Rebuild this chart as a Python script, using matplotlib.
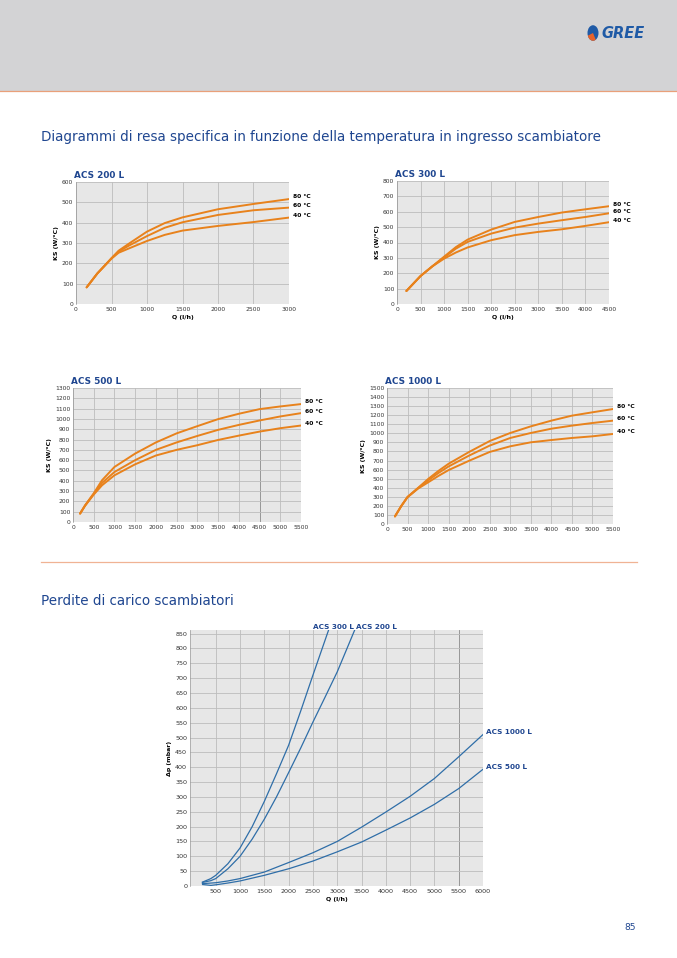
import matplotlib
matplotlib.use("Agg")
import matplotlib.pyplot as plt
from matplotlib.patches import Rectangle, Circle, Wedge

W, H = 677, 958

# ---- dati: resa specifica KS (W/°C) vs Q (l/h) ----
temps = ["80 °C", "60 °C", "40 °C"]

q_200 = [150, 300, 500, 600, 750, 1000, 1250, 1500, 2000, 2500, 3000]
ks_200 = {
    "80 °C": [82, 150, 225, 262, 298, 356, 398, 426, 466, 492, 516],
    "60 °C": [82, 150, 225, 258, 288, 334, 375, 402, 438, 461, 474],
    "40 °C": [82, 150, 223, 252, 274, 310, 340, 361, 384, 403, 425],
}

q_300 = [200, 500, 750, 1000, 1250, 1500, 2000, 2500, 3000, 3500, 4000, 4500]
ks_300 = {
    "80 °C": [85, 182, 245, 308, 370, 419, 484, 534, 566, 595, 616, 636],
    "60 °C": [85, 182, 245, 303, 360, 404, 458, 497, 523, 545, 566, 590],
    "40 °C": [85, 182, 245, 295, 335, 368, 415, 448, 469, 486, 508, 532],
}

q_500 = [171, 292, 500, 700, 1000, 1500, 2000, 2500, 3000, 3500, 4000, 4500, 5000, 5500]
ks_500 = {
    "80 °C": [82, 162, 278, 405, 534, 664, 772, 860, 930, 998, 1050, 1095, 1121, 1144],
    "60 °C": [82, 160, 272, 379, 485, 600, 700, 772, 835, 894, 942, 985, 1024, 1056],
    "40 °C": [82, 158, 266, 356, 453, 560, 645, 700, 745, 796, 838, 877, 910, 936],
}

q_1000 = [194, 350, 500, 760, 1000, 1250, 1500, 2000, 2500, 3000, 3500, 4000, 4500, 5000, 5500]
ks_1000 = {
    "80 °C": [84, 200, 298, 400, 496, 585, 665, 795, 915, 1004, 1077, 1140, 1195, 1232, 1268],
    "60 °C": [84, 200, 298, 397, 481, 562, 635, 755, 865, 949, 1004, 1051, 1085, 1114, 1140],
    "40 °C": [84, 200, 296, 392, 459, 530, 595, 698, 795, 857, 901, 926, 949, 967, 993],
}

# ---- dati: perdite di carico (mbar) vs Q (l/h) ----
q_dp_300 = [226, 400, 500, 750, 1000, 1250, 1500, 1750, 2000, 2250, 2500, 2850]
dp_300 = [13, 25, 36, 75, 128, 200, 285, 378, 474, 590, 710, 875]
q_dp_200 = [226, 400, 500, 750, 1000, 1250, 1500, 1750, 2000, 2250, 2500, 2750, 3000, 3380]
dp_200 = [12, 18, 25, 58, 100, 158, 225, 300, 382, 465, 552, 636, 721, 870]
q_dp_1000 = [226, 500, 750, 1000, 1500, 2000, 2500, 3000, 3500, 4000, 4500, 5000, 5500, 6000]
dp_1000 = [8, 11, 17, 25, 47, 79, 112, 150, 198, 249, 302, 362, 435, 510]
q_dp_500 = [230, 400, 500, 750, 1000, 1500, 2000, 2500, 3000, 3500, 4000, 4500, 5000, 5500, 6000]
dp_500 = [5, 2, 4, 10, 17, 36, 58, 84, 115, 148, 188, 229, 275, 328, 393]

ORANGE = "#e8821c"
BLUE_TXT = "#1f4690"
BLUE_LINE = "#2f6ea8"
BG = "#e7e7e7"
GRID = "#bdbdbd"

plt.rcParams["font.family"] = "DejaVu Sans"

fig = plt.figure(figsize=(W / 100, H / 100), dpi=100)


def px_axes(l, t, r, b):
    return fig.add_axes([l / W, 1 - b / H, (r - l) / W, (b - t) / H])


def fy(y):
    return 1 - y / H


# intestazione
fig.patches.append(Rectangle((0, fy(91)), 1, 91 / H, transform=fig.transFigure,
                             facecolor="#d3d3d5", edgecolor="none", zorder=0))
fig.add_artist(plt.Line2D([0, 1], [fy(91), fy(91)], transform=fig.transFigure,
                          color="#e9a07a", lw=0.9))
# logo
fig.patches.append(Circle((593 / W, fy(33)), 5.5 / W, transform=fig.transFigure,
                          facecolor="#1f5aa6", edgecolor="none"))
fig.patches.append(Wedge((593 / W, fy(33)), 5.5 / W, 200, 300, transform=fig.transFigure,
                         facecolor="#e8632a", edgecolor="none"))
fig.text(601 / W, fy(33), "GREE", color="#1f5aa6", fontsize=10.5, fontweight="bold",
         fontstyle="italic", va="center", ha="left")

fig.text(41 / W, fy(137), "Diagrammi di resa specifica in funzione della temperatura in ingresso scambiatore",
         color=BLUE_TXT, fontsize=9.75, va="center", ha="left")
fig.add_artist(plt.Line2D([41 / W, 637 / W], [fy(562), fy(562)], transform=fig.transFigure,
                          color="#f0b394", lw=0.9))
fig.text(41 / W, fy(601), "Perdite di carico scambiatori", color=BLUE_TXT, fontsize=9.75,
         va="center", ha="left")
fig.text(630 / W, fy(928), "85", color=BLUE_TXT, fontsize=6.5, va="center", ha="center")


def style(ax, xlim, xstep, ylim, ystep, xlabel, ylabel, title, xticks_from=0):
    ax.set_facecolor(BG)
    ax.set_xlim(*xlim)
    ax.set_ylim(*ylim)
    ax.set_xticks(range(xticks_from, int(xlim[1]) + 1, xstep))
    ax.set_yticks(range(0, int(ylim[1]) + 1, ystep))
    ax.grid(True, color=GRID, lw=0.6)
    ax.set_axisbelow(True)
    ax.tick_params(labelsize=4.3, length=0, pad=2, colors="#333333")
    for s in ax.spines.values():
        s.set_visible(False)
    ax.spines["left"].set_visible(True)
    ax.spines["left"].set_color("#9a9a9a")
    ax.spines["left"].set_linewidth(0.5)
    if xlabel:
        ax.set_xlabel(xlabel, fontsize=4.5, fontweight="bold", labelpad=2)
    if ylabel:
        ax.set_ylabel(ylabel, fontsize=4.5, fontweight="bold", labelpad=2)
    if title:
        ax.set_title(title, loc="left", fontsize=6.4, fontweight="bold", color=BLUE_TXT,
                     pad=3, x=-0.01)


def ks_chart(box, q, ks, xmax, ymax, ystep, title, xlabel):
    ax = px_axes(*box)
    for t in temps:
        ax.plot(q, ks[t], color=ORANGE, lw=1.4, solid_capstyle="round",
                solid_joinstyle="round")
        ax.annotate(t, (q[-1], ks[t][-1]), xytext=(3, 1.5), textcoords="offset points",
                    fontsize=4.3, fontweight="bold", va="center", ha="left",
                    annotation_clip=False)
    style(ax, (0, xmax), 500, (0, ymax), ystep, xlabel, "KS (W/°C)", title)
    return ax


ks_chart((76, 182, 289, 304), q_200, ks_200, 3000, 600, 100, "ACS 200 L", "Q (l/h)")
ks_chart((397, 181, 609, 304), q_300, ks_300, 4500, 800, 100, "ACS 300 L", "Q (l/h)")
ax5 = ks_chart((73, 388, 301, 522), q_500, ks_500, 5500, 1300, 100, "ACS 500 L", None)
ax5.get_xgridlines()[9].set_color("#8a8a8a")
ks_chart((387, 388, 613, 524), q_1000, ks_1000, 5500, 1500, 100, "ACS 1000 L", None)

# perdite di carico
axp = px_axes(190, 630, 483, 886)
for q, dp in [(q_dp_300, dp_300), (q_dp_200, dp_200), (q_dp_1000, dp_1000), (q_dp_500, dp_500)]:
    axp.plot(q, dp, color=BLUE_LINE, lw=0.9, solid_joinstyle="round")
style(axp, (-30, 6000), 500, (0, 862), 50, "Q (l/h)", "Δp (mbar)", None, xticks_from=500)
axp.tick_params(labelsize=4.6)
axp.get_xgridlines()[10].set_color("#8a8a8a")
lab = dict(fontsize=5.2, fontweight="bold", color=BLUE_TXT, annotation_clip=False)
axp.annotate("ACS 300 L", (q_dp_300[-1], 862), xytext=(-12.5, 2.5), textcoords="offset points",
             ha="left", va="center", **lab)
axp.annotate("ACS 200 L", (q_dp_200[-1], 862), xytext=(0, 2.5), textcoords="offset points",
             ha="left", va="center", **lab)
axp.annotate("ACS 1000 L", (q_dp_1000[-1], dp_1000[-1]), xytext=(2, 2), textcoords="offset points",
             ha="left", va="center", **lab)
axp.annotate("ACS 500 L", (q_dp_500[-1], dp_500[-1]), xytext=(2, 2), textcoords="offset points",
             ha="left", va="center", **lab)

fig.savefig("out.png", dpi=100)
